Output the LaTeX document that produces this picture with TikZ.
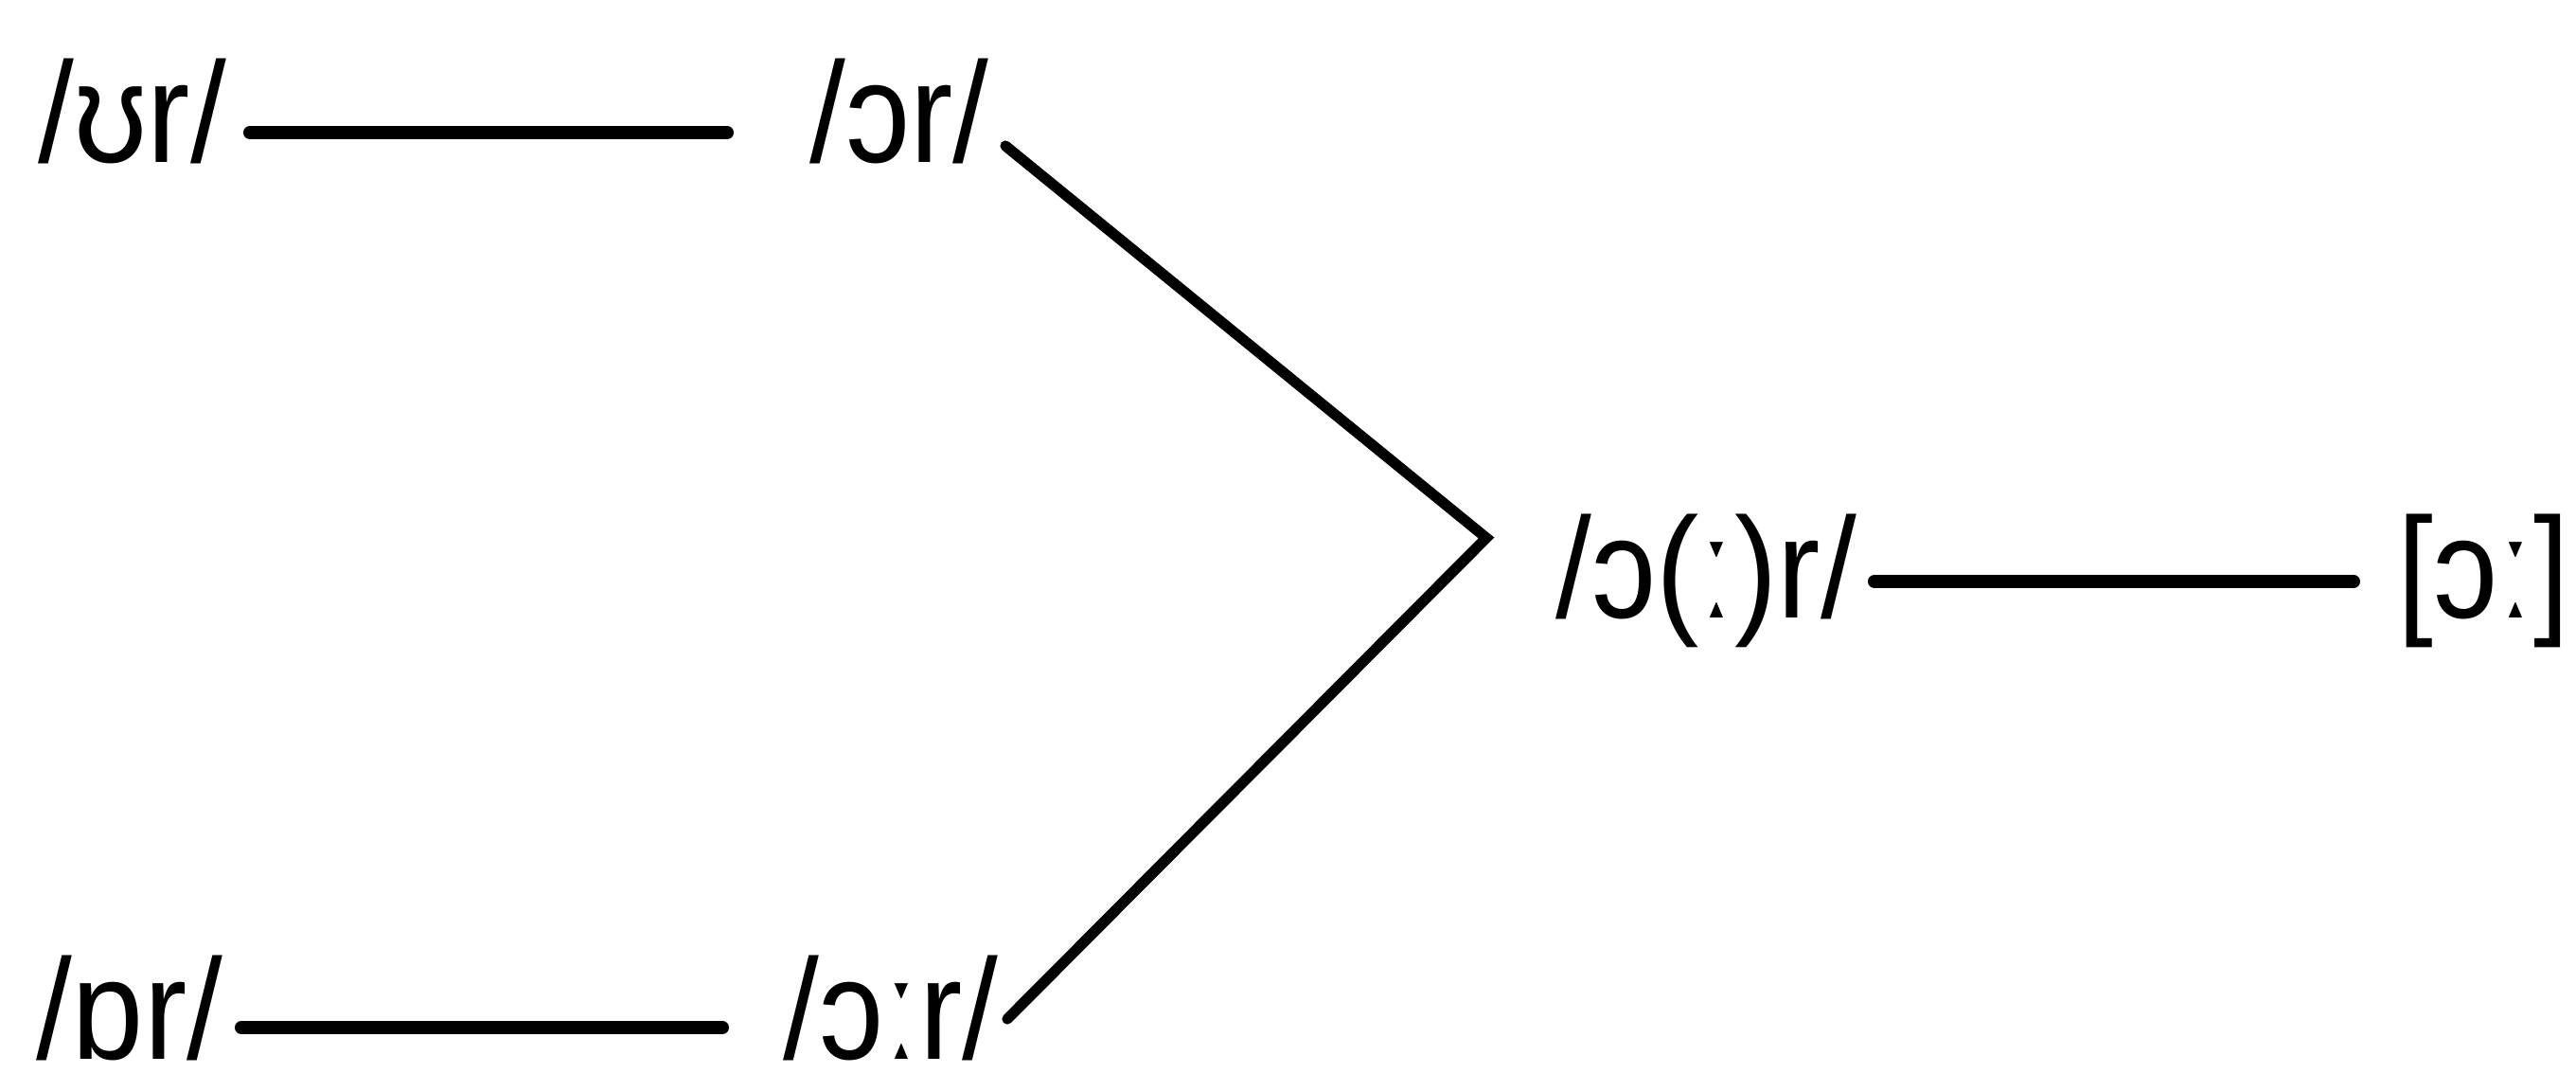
\documentclass[tikz,border=0pt]{standalone}
\usepackage{fontspec}
\setmainfont{Liberation Sans}[FakeStretch=0.9]
\begin{document}
\begin{tikzpicture}[
  lbl/.style={inner sep=0pt, anchor=base west, font=\fontsize{43}{46}\selectfont},
  hconn/.style={line width=4pt, line cap=round},
  dconn/.style={line width=3.2pt, line cap=round, line join=miter}
]
\useasboundingbox (0,0) rectangle (27.21,11.52);
\node[lbl] (ur) at (0.40,9.80) {/ʊr/};
\node[lbl] (or) at (8.55,9.80) {/ɔr/};
\node[lbl] (pr) at (0.38,0.33) {/ɒr/};
\node[lbl] (oor) at (8.27,0.33) {/ɔːr/};
\node[lbl] (ocr) at (16.43,4.99) {/ɔ(ː)r/};
\node[lbl] (oo) at (25.32,4.99) {[ɔː]};
% connector end points
\coordinate (u1) at (2.64,10.12);
\coordinate (u2) at (7.68,10.12);
\coordinate (p1) at (2.55,0.67);
\coordinate (p2) at (7.63,0.67);
\coordinate (c1) at (19.80,5.38);
\coordinate (c2) at (24.86,5.38);
\coordinate (dtop) at (10.62,9.98);
\coordinate (apex) at (15.70,5.84);
\coordinate (dbot) at (10.64,0.76);
\draw[hconn] (u1) -- (u2);
\draw[hconn] (p1) -- (p2);
\draw[hconn] (c1) -- (c2);
\draw[dconn] (dtop) -- (apex) -- (dbot);
\end{tikzpicture}
\end{document}
